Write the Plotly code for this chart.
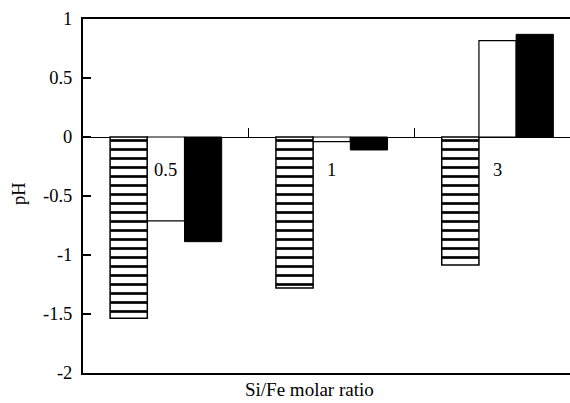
import plotly.graph_objects as go

categories = ["0.5", "1", "3"]
hatched_vals = [-1.535, -1.28, -1.085]
white_vals = [-0.71, -0.04, 0.816]
black_vals = [-0.887, -0.11, 0.87]
y_tick_vals = [1, 0.5, 0, -0.5, -1, -1.5, -2]
y_tick_text = ["1", "0.5", "0", "-0.5", "-1", "-1.5", "-2"]
divider_ticks = [0.5, 1.5]

xpos = list(range(len(categories)))
serif = "Liberation Serif, Times New Roman, serif"

fig = go.Figure()
fig.add_trace(go.Bar(
    x=xpos, y=hatched_vals, name="a",
    marker=dict(color="white", line=dict(color="black", width=1.5),
                pattern=dict(shape="-", size=9, solidity=0.3, fgcolor="black",
                             bgcolor="white", fgopacity=1)),
))
fig.add_trace(go.Bar(
    x=xpos, y=white_vals, name="b",
    marker=dict(color="white", line=dict(color="black", width=1.2)),
))
fig.add_trace(go.Bar(
    x=xpos, y=black_vals, name="c",
    marker=dict(color="black", line=dict(color="black", width=1)),
))

annotations = []
for i, c in enumerate(categories):
    annotations.append(dict(x=i, y=0, xref="x", yref="y", text=c, showarrow=False,
                            yshift=-33, font=dict(family=serif, size=18.5, color="black")))
annotations.append(dict(x=0.465, y=0, xref="paper", yref="paper", text="Si/Fe molar ratio",
                        showarrow=False, yanchor="top", yshift=-5, borderpad=0,
                        font=dict(family=serif, size=19, color="black")))
annotations.append(dict(x=-0.1324, y=0.507, xref="paper", yref="paper", text="pH",
                        showarrow=False, textangle=-90, xanchor="center", yanchor="middle",
                        font=dict(family=serif, size=18.5, color="black")))

fig.update_layout(
    width=570, height=403,
    margin=dict(l=83, r=0, t=19, b=30),
    paper_bgcolor="white", plot_bgcolor="white",
    barmode="group", bargap=0.327, bargroupgap=0,
    showlegend=False,
    annotations=annotations,
    xaxis=dict(range=[-0.5, 2.437], showline=True, linecolor="black", linewidth=2,
               mirror=True, ticks="", showticklabels=False, showgrid=False, zeroline=False),
    xaxis2=dict(overlaying="x", matches="x", anchor="free", position=2/3,
                showline=False, showgrid=False, zeroline=False,
                tickmode="array", tickvals=divider_ticks, ticks="inside", ticklen=9,
                tickcolor="black", tickwidth=1.2, showticklabels=False),
    yaxis=dict(range=[-2, 1], showline=True, linecolor="black", linewidth=2,
               ticks="inside", ticklen=8, tickwidth=1.5, tickcolor="black",
               tickmode="array", tickvals=y_tick_vals, ticktext=y_tick_text,
               tickfont=dict(family=serif, size=18.5, color="black"),
               showgrid=False, zeroline=True, zerolinecolor="black", zerolinewidth=1.2,
               ticklabelstandoff=5),
)
fig.add_trace(go.Scatter(x=[0], y=[0], xaxis="x2", mode="markers",
                         marker=dict(opacity=0), hoverinfo="skip", showlegend=False))

fig.write_html("out.html", config={"displayModeBar": False},
               post_script="document.body.style.margin='0';")
